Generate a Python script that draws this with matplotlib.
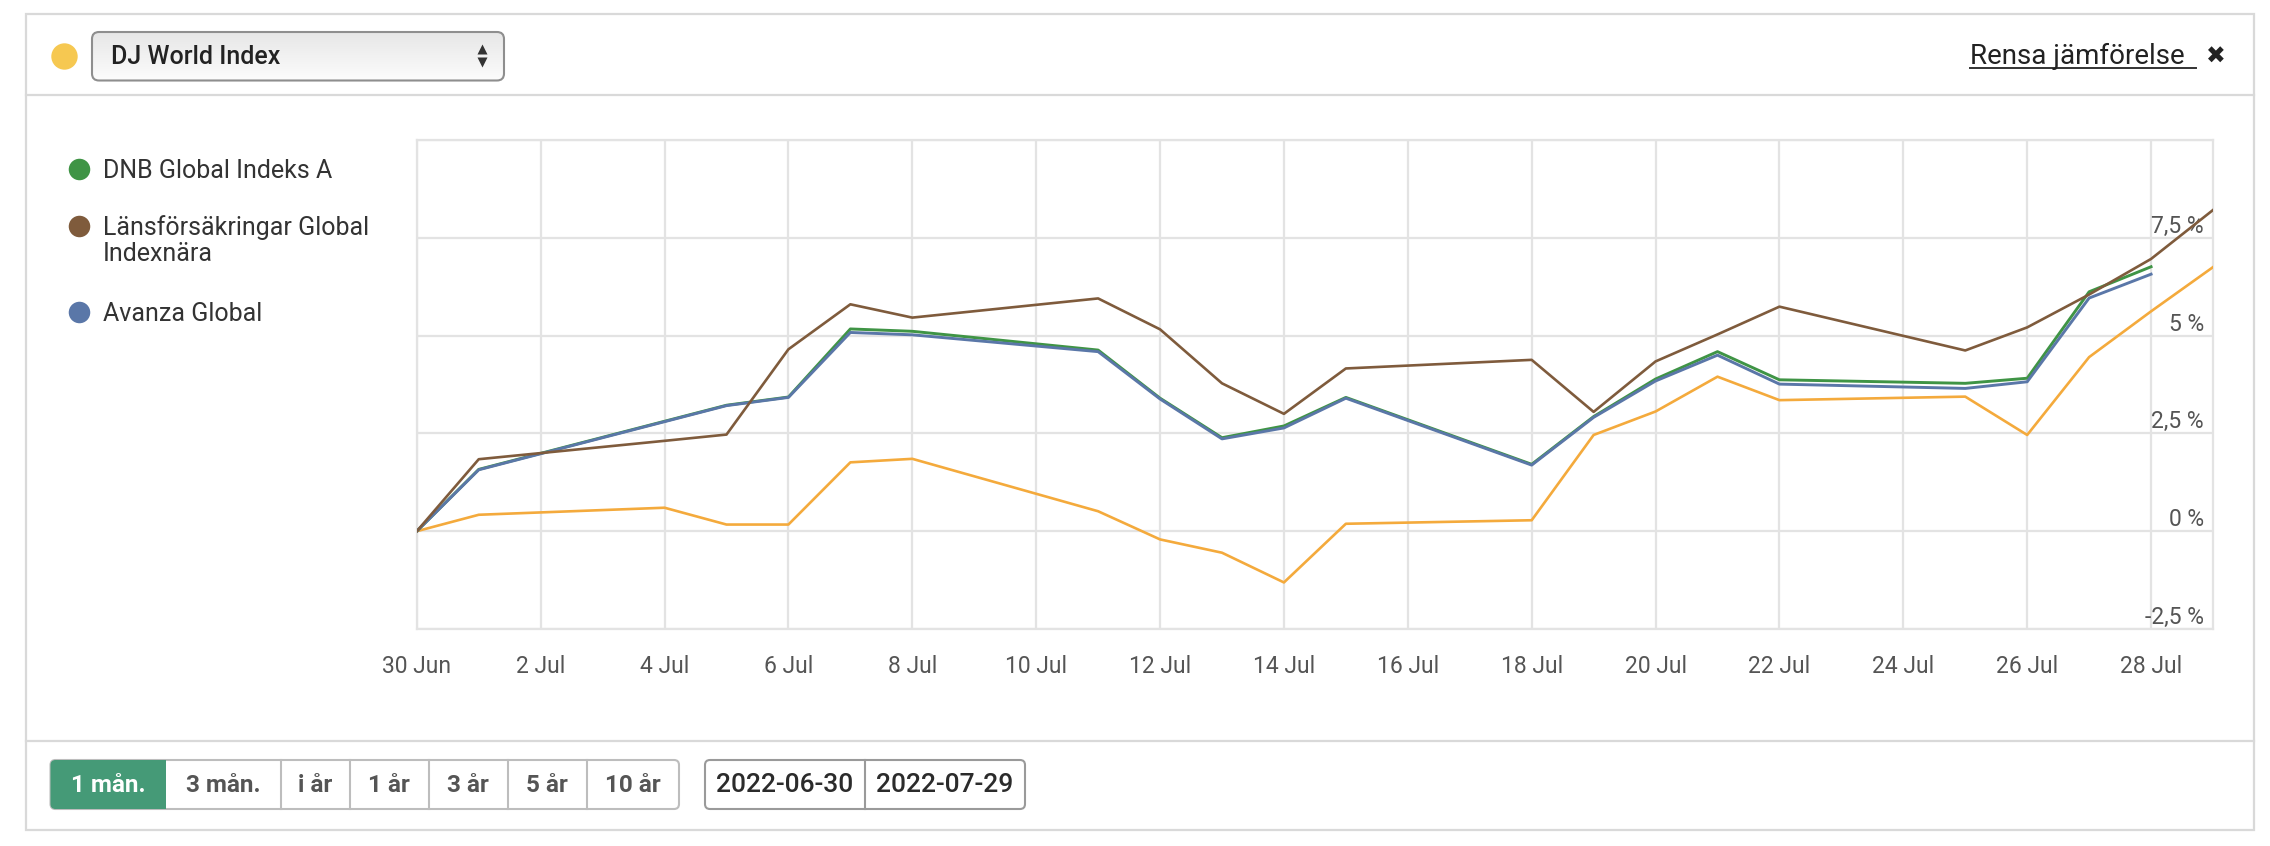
import matplotlib
matplotlib.use('Agg')
import matplotlib.pyplot as plt
import numpy as np
from matplotlib.patches import FancyBboxPatch, Rectangle

plt.rcParams['font.family'] = ['Roboto', 'DejaVu Sans']

#%%
# Data (cumulative change, %)
dates = ['2022-06-30', '2022-07-01', '2022-07-04', '2022-07-05', '2022-07-06',
         '2022-07-07', '2022-07-08', '2022-07-11', '2022-07-12', '2022-07-13',
         '2022-07-14', '2022-07-15', '2022-07-18', '2022-07-19', '2022-07-20',
         '2022-07-21', '2022-07-22', '2022-07-25', '2022-07-26', '2022-07-27',
         '2022-07-28', '2022-07-29']
dj_world = [0, 0.42, 0.60, 0.17, 0.17, 1.76, 1.85, 0.51, -0.21, -0.55, -1.31,
            0.19, 0.28, 2.46, 3.06, 3.95, 3.35, 3.44, 2.46, 4.45, 5.62, 6.75]
lansforsakringar = [0, 1.84, 2.31, 2.47, 4.65, 5.80, 5.46, 5.95, 5.16, 3.78, 3.00,
                    4.16, 4.38, 3.05, 4.34, 5.03, 5.74, 4.62, 5.21, 6.05, 6.96, 8.21]
dnb = [0, 1.58, 2.81, 3.22, 3.43, 5.17, 5.11, 4.63, 3.40, 2.39, 2.69,
       3.42, 1.71, 2.93, 3.89, 4.59, 3.87, 3.78, 3.91, 6.12, 6.76, np.nan]
avanza = [0, 1.57, 2.80, 3.21, 3.42, 5.08, 5.02, 4.59, 3.38, 2.36, 2.64,
          3.40, 1.69, 2.91, 3.84, 4.50, 3.76, 3.65, 3.82, 5.96, 6.57, np.nan]

series_names = ['DNB Global Indeks A', 'Länsförsäkringar Global\nIndexnära', 'Avanza Global']
series_colors = ['#3f9445', '#7f5b3c', '#5a77a8']
index_name = 'DJ World Index'
index_color = '#f4aa3c'

xtick_dates = ['2022-06-30', '2022-07-02', '2022-07-04', '2022-07-06', '2022-07-08',
               '2022-07-10', '2022-07-12', '2022-07-14', '2022-07-16', '2022-07-18',
               '2022-07-20', '2022-07-22', '2022-07-24', '2022-07-26', '2022-07-28']
xtick_labels = ['30 Jun', '2 Jul', '4 Jul', '6 Jul', '8 Jul', '10 Jul', '12 Jul', '14 Jul',
                '16 Jul', '18 Jul', '20 Jul', '22 Jul', '24 Jul', '26 Jul', '28 Jul']
ytick_vals = [-2.5, 0, 2.5, 5, 7.5, 10]
ytick_labels = ['-2,5 %', '0 %', '2,5 %', '5 %', '7,5 %']

period_labels = ['1 mån.', '3 mån.', 'i år', '1 år', '3 år', '5 år', '10 år']
range_labels = ['2022-06-30', '2022-07-29']

d = np.array(dates, dtype='datetime64[D]')

#%%
W, H = 2270, 846
fig = plt.figure(figsize=(W / 100, H / 100), dpi=100)
fig.patch.set_facecolor('white')

# pixel-space layer for the widget frame
ui = fig.add_axes([0, 0, 1, 1])
ui.axis('off')

frame_col = '#d9d9d9'
ui.add_patch(Rectangle((26, 14), 2228, 816, fill=False, ec=frame_col, lw=1.6))
ui.plot([26, 2254], [95, 95], color=frame_col, lw=1.6)
ui.plot([26, 2254], [741, 741], color=frame_col, lw=1.6)

# header: index selector
ui.plot(64, 56, 'o', ms=19, color='#f6c851', mec='none')
box = FancyBboxPatch((92, 32), 412, 48.5, boxstyle='round,pad=0,rounding_size=7',
                     fc='none', ec='#8e8e8e', lw=1.5, zorder=3)
ui.add_patch(box)
grad = np.linspace(0, 1, 64).reshape(-1, 1)
img = ui.imshow(grad, cmap=matplotlib.colors.LinearSegmentedColormap.from_list('g', ['#e6e6e6', '#fcfcfc']),
                extent=(92, 504, 80.5, 32), aspect='auto', zorder=2)
img.set_clip_path(box)
ui.text(111, 57, index_name, fontsize=18, fontweight='medium', color='#222222', va='center')
ui.plot(482, 49, marker='^', ms=7, color='#333333', mec='none')
ui.plot(482, 62, marker='v', ms=7, color='#333333', mec='none')

ui.text(1970, 56, 'Rensa jämförelse', fontsize=20, color='#222222', va='center')
ui.plot([1970, 2196], [68.5, 68.5], color='#333333', lw=1.4)
ui.text(2215.5, 57, '✖', family='DejaVu Sans', fontsize=17, color='#222222', ha='center', va='center')

# legend
leg_y = [169, 226, 312]
for name, col, y in zip(series_names, series_colors, leg_y):
    ui.plot(79, y, 'o', ms=15.5, color=col, mec='none')
    if '\n' in name:
        ui.text(103, y - 11, name, fontsize=18, color='#333333', va='top', linespacing=1.1)
    else:
        ui.text(103, y + 2, name, fontsize=18, color='#333333', va='center')

# footer: period buttons
seg = [50.5, 166, 280.5, 349.5, 428.5, 508, 586.5, 679]
green = '#459a77'
ui.add_patch(FancyBboxPatch((seg[0], 760), seg[-1] - seg[0], 49,
                            boxstyle='round,pad=0,rounding_size=5', fc='white', ec='#bdbdbd', lw=1.5))
ui.add_patch(FancyBboxPatch((seg[0], 760), seg[1] - seg[0], 49,
                            boxstyle='round,pad=0,rounding_size=5', fc=green, ec='none', zorder=3))
ui.add_patch(Rectangle((seg[1] - 20, 760), 20, 49, fc=green, ec='none', zorder=3))
for x in seg[2:-1]:
    ui.plot([x, x], [760, 809], color='#bdbdbd', lw=1.5)
for i, lab in enumerate(period_labels):
    ui.text((seg[i] + seg[i + 1]) / 2, 785, lab, fontsize=17.5, fontweight='bold',
            color='white' if i == 0 else '#555555', ha='center', va='center', zorder=4)

dseg = [705, 864.5, 1025]
ui.add_patch(FancyBboxPatch((dseg[0], 760), dseg[-1] - dseg[0], 49,
                            boxstyle='round,pad=0,rounding_size=5', fc='white', ec='#9a9a9a', lw=1.5))
ui.plot([dseg[1], dseg[1]], [760, 809], color='#9a9a9a', lw=1.5)
for i, lab in enumerate(range_labels):
    ui.text((dseg[i] + dseg[i + 1]) / 2, 785, lab, fontsize=19, fontweight='medium',
            color='#2b2b2b', ha='center', va='center')

ui.set_xlim(0, W)
ui.set_ylim(H, 0)

#%%
# chart
ax = fig.add_axes([416.8 / W, 1 - 629 / H, (2213 - 416.8) / W, (629 - 140) / H])
grid_col = '#e3e3e3'
ax.plot(d, dj_world, color=index_color, lw=1.9, zorder=3)
ax.plot(d, dnb, color=series_colors[0], lw=2.1, zorder=4)
ax.plot(d, avanza, color=series_colors[2], lw=2.1, zorder=5)
ax.plot(d, lansforsakringar, color=series_colors[1], lw=1.9, zorder=6)

ax.set_xlim(np.datetime64('2022-06-30'), np.datetime64('2022-07-29'))
ax.set_ylim(-2.5, 10)
ax.set_xticks(np.array(xtick_dates, dtype='datetime64[D]'), xtick_labels)
ax.set_yticks(ytick_vals)
ax.tick_params(axis='x', length=0, pad=19, labelsize=16.5, labelcolor='#555555')
ax.tick_params(axis='y', length=0, labelleft=False)
ax.grid(True, color=grid_col, lw=1.6)
ax.set_axisbelow(True)
for s in ax.spines.values():
    s.set_color(grid_col)
    s.set_linewidth(1.6)
for v, lab in zip(ytick_vals, ytick_labels):
    ax.text(0.995, v, lab, transform=ax.get_yaxis_transform(), ha='right', va='bottom',
            fontsize=16.5, color='#555555', zorder=2)

fig.savefig('out.png', dpi=100, facecolor='white')
